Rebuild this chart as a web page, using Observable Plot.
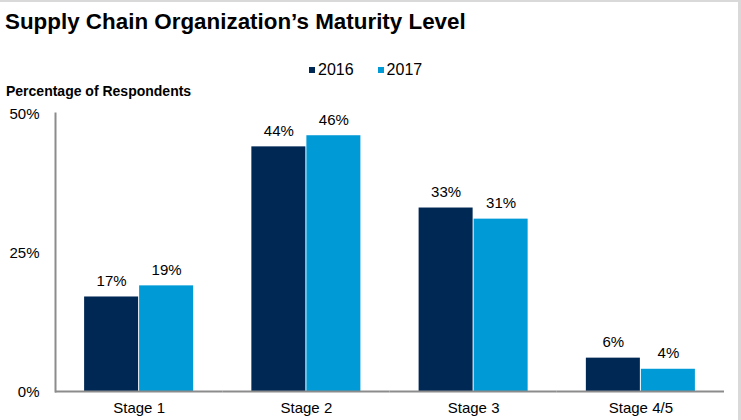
<!DOCTYPE html>
<html><head><meta charset="utf-8">
<script src="https://cdn.jsdelivr.net/npm/d3@7"></script>
<script src="https://cdn.jsdelivr.net/npm/@observablehq/plot@0.6"></script>
<style>
body{margin:0;background:#fff;}
#wrap{position:relative;width:741px;height:420px;overflow:hidden;font-family:"Liberation Sans",Arial,sans-serif;color:#000;box-sizing:border-box;border-top:2px solid #d9d9d9;border-right:3px solid #d9d9d9;}
#title{position:absolute;left:5px;top:7px;font-size:22.4px;font-weight:bold;line-height:26px;white-space:nowrap;}
#legend{position:absolute;left:309px;top:58px;font-size:16px;line-height:20px;white-space:nowrap;}
#legend span.item{display:inline-block;margin-right:24px;}
#legend span.sw{display:inline-block;width:6px;height:6px;margin-right:3px;vertical-align:middle;position:relative;top:-1px;}
#ylabel{position:absolute;left:6px;top:80px;font-size:14px;font-weight:bold;line-height:18px;white-space:nowrap;}
#chart{position:absolute;left:0;top:91px;}
</style>
</head><body>
<div id="wrap">
  <div id="title"></div>
  <div id="legend"></div>
  <div id="ylabel"></div>
  <div id="chart"></div>
</div>
<script>
const titleText = "Supply Chain Organization’s Maturity Level";
const yLabelText = "Percentage of Respondents";
const stages = ["Stage 1", "Stage 2", "Stage 3", "Stage 4/5"];
const years = ["2016", "2017"];
const values2016 = [17, 44, 33, 6];
const values2017 = [19, 46, 31, 4];
const yTicks = [0, 25, 50];
const colors = ["#002855", "#009ad7"];

const data = stages.flatMap((s, i) => [
  {stage: s, year: years[0], value: values2016[i]},
  {stage: s, year: years[1], value: values2017[i]}
]);

document.getElementById("title").textContent = titleText;
document.getElementById("ylabel").textContent = yLabelText;
const legend = document.getElementById("legend");
years.forEach((y, i) => {
  const item = document.createElement("span");
  item.className = "item";
  const sw = document.createElement("span");
  sw.className = "sw";
  sw.style.background = colors[i];
  item.appendChild(sw);
  item.appendChild(document.createTextNode(y));
  legend.appendChild(item);
});

const chart = Plot.plot({
  width: 738,
  height: 328,
  marginLeft: 55,
  marginRight: 14,
  marginTop: 20,
  marginBottom: 30,
  style: {fontFamily: "Liberation Sans, Arial, sans-serif", fontSize: "15px", color: "#000", background: "transparent", overflow: "visible"},
  fx: {domain: stages, padding: 0, round: false, label: null, tickSize: 0, tickPadding: 11},
  x: {domain: years, axis: null, paddingInner: 0, paddingOuter: 0.52, round: false},
  y: {domain: [0, 50], axis: null},
  color: {domain: years, range: colors},
  marks: [
    Plot.barY(data, {fx: "stage", x: "year", y: "value", fill: "year", insetLeft: 0.5, insetRight: 0.5}),
    Plot.text(data, {fx: "stage", x: "year", y: "value", text: d => d.value + "%", dy: -16, fontSize: 15, fill: "#000"}),
    Plot.axisY({ticks: yTicks, tickFormat: d => d + "%", label: null, tickSize: 0, tickPadding: 16, fontSize: 15, dy: 1}),
    Plot.frame({anchor: "left", fx: [stages[0]], stroke: "#8c8c8c", strokeWidth: 2}),
    Plot.ruleY([0], {stroke: "#8c8c8c", strokeWidth: 2})
  ]
});
document.getElementById("chart").appendChild(chart);
</script>
</body></html>
